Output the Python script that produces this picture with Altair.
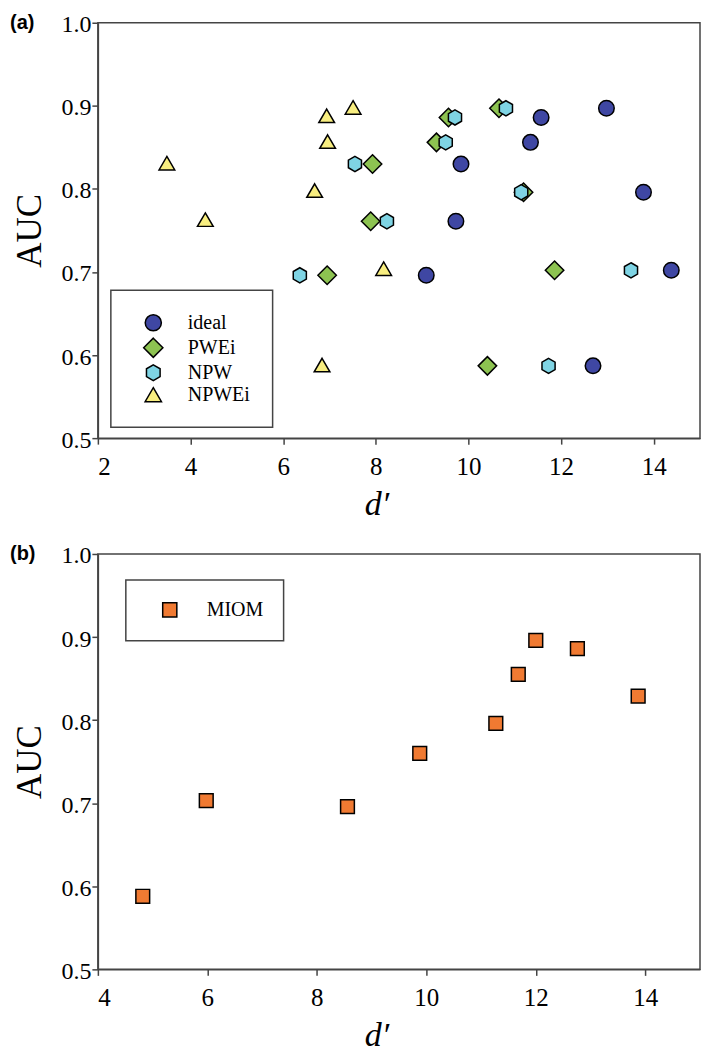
import altair as alt
import pandas as pd

# ---------------- data ----------------
series = ["ideal", "PWEi", "NPW", "NPWEi"]

ideal_x = [9.09, 9.73, 9.84, 11.34, 11.57, 12.98, 13.78, 14.38, 12.69]
ideal_y = [0.696, 0.761, 0.830, 0.856, 0.886, 0.897, 0.796, 0.702, 0.587]

pwei_x = [6.95, 7.89, 7.93, 9.31, 9.57, 10.66, 11.19, 11.86, 10.41]
pwei_y = [0.696, 0.761, 0.830, 0.856, 0.886, 0.897, 0.796, 0.702, 0.587]

npw_x = [6.36, 8.24, 7.55, 9.51, 9.71, 10.81, 11.14, 13.51, 11.73]
npw_y = [0.696, 0.761, 0.830, 0.856, 0.886, 0.897, 0.796, 0.702, 0.587]

npwei_x = [3.49, 4.32, 6.68, 6.94, 6.96, 7.51, 8.17, 6.84]
npwei_y = [0.831, 0.763, 0.798, 0.888, 0.857, 0.898, 0.704, 0.588]

miom_x = [4.82, 5.98, 8.56, 9.88, 11.27, 11.68, 12.00, 12.76, 13.87]
miom_y = [0.588, 0.703, 0.696, 0.760, 0.796, 0.855, 0.896, 0.886, 0.829]

x_ticks_a = [2, 4, 6, 8, 10, 12, 14]
x_ticks_b = [4, 6, 8, 10, 12, 14]
y_ticks = [0.5, 0.6, 0.7, 0.8, 0.9, 1.0]

colors = ["#3f47a3", "#8dc351", "#7fd4e4", "#f8ee80"]
miom_color = "#f07a32"

# symbol outlines (unit box -1..1)
circle_path = "M0.84,0A0.84,0.84,0,1,1,-0.84,0A0.84,0.84,0,1,1,0.84,0Z"
diamond_path = "M0,-1L1,0L0,1L-1,0Z"
hexagon_path = "M0,-0.82L0.71,-0.41L0.71,0.41L0,0.82L-0.71,0.41L-0.71,-0.41Z"
triangle_path = "M0,-0.73L0.85,0.73L-0.85,0.73Z"
shapes = [circle_path, diamond_path, hexagon_path, triangle_path]

rows = []
for name, xs, ys in [("ideal", ideal_x, ideal_y), ("PWEi", pwei_x, pwei_y),
                     ("NPW", npw_x, npw_y), ("NPWEi", npwei_x, npwei_y)]:
    for xv, yv in zip(xs, ys):
        rows.append({"series": name, "d": xv, "auc": yv})
df_a = pd.DataFrame(rows)
df_b = pd.DataFrame({"series": ["MIOM"] * len(miom_x), "d": miom_x, "auc": miom_y})

SERIF = "Liberation Serif"
AXC = "#444444"
W, H = 603, 416


def x_axis(vals):
    return alt.Axis(values=vals, format="d", title="d′", grid=False,
                    tickSize=6, tickWidth=1.5, tickColor=AXC,
                    domainColor=AXC, domainWidth=1.5,
                    labelFont=SERIF, labelFontSize=25, labelColor="black",
                    labelPadding=10,
                    titleFont=SERIF, titleFontStyle="italic", titleFontWeight="normal",
                    titleFontSize=34, titleColor="black",
                    titleX=279, titleY=76, titleBaseline="alphabetic", titleAlign="center")


def y_axis():
    return alt.Axis(values=y_ticks, format=".1f", title="AUC", grid=False,
                    tickSize=6, tickWidth=1.5, tickColor=AXC,
                    domainColor=AXC, domainWidth=1.5,
                    labelFont=SERIF, labelFontSize=24, labelColor="black",
                    labelPadding=1, labelBaseline="alphabetic", labelOffset=9,
                    titleFont=SERIF, titleFontWeight="normal", titleFontSize=35,
                    titleColor="black", titleAngle=270,
                    titleX=-57, titleY=H / 2, titleBaseline="alphabetic", titleAlign="center")


def panel_title(txt):
    return alt.TitleParams(text=txt, anchor="start", frame="group", orient="top",
                           font="Liberation Sans", fontWeight="bold", fontSize=20,
                           color="black", baseline="alphabetic", offset=-36,
                           dx=-88)


legend_a = alt.Legend(title=None, orient="none", legendX=13, legendY=268,
                      strokeColor=AXC, fillColor="white", padding=22,
                      symbolOffset=10, labelOffset=24, rowPadding=0,
                      labelFont=SERIF, labelFontSize=20, labelColor="black",
                      symbolSize=370)

chart_a = alt.Chart(df_a).mark_point(
    filled=True, opacity=1, stroke="black", strokeWidth=1.5, size=342
).encode(
    x=alt.X("d:Q", scale=alt.Scale(domain=[2, 15], nice=False, zero=False), axis=x_axis(x_ticks_a)),
    y=alt.Y("auc:Q", scale=alt.Scale(domain=[0.5, 1.0], nice=False, zero=False), axis=y_axis()),
    fill=alt.Fill("series:N", scale=alt.Scale(domain=series, range=colors), legend=legend_a),
    shape=alt.Shape("series:N", scale=alt.Scale(domain=series, range=shapes), legend=legend_a),
).properties(width=W, height=H, title=panel_title("(a)"))

legend_b = alt.Legend(title=None, orient="none", legendX=28, legendY=26,
                      strokeColor=AXC, fillColor="white", padding=20,
                      symbolOffset=14, labelOffset=27, rowPadding=0,
                      labelFont=SERIF, labelFontSize=20, labelColor="black",
                      symbolSize=200)

chart_b = alt.Chart(df_b).mark_point(
    filled=True, opacity=1, stroke="black", strokeWidth=1.5, size=190
).encode(
    x=alt.X("d:Q", scale=alt.Scale(domain=[4, 15], nice=False, zero=False), axis=x_axis(x_ticks_b)),
    y=alt.Y("auc:Q", scale=alt.Scale(domain=[0.5, 1.0], nice=False, zero=False), axis=y_axis()),
    fill=alt.Fill("series:N", scale=alt.Scale(domain=["MIOM"], range=[miom_color]), legend=legend_b),
    shape=alt.Shape("series:N", scale=alt.Scale(domain=["MIOM"], range=["square"]), legend=legend_b),
).properties(width=W, height=H, title=panel_title("(b)"))

chart = alt.vconcat(chart_a, chart_b, spacing=21).resolve_scale(
    fill="independent", shape="independent", x="independent", y="independent"
).resolve_legend(
    fill="independent", shape="independent"
).properties(
    padding={"left": 1, "top": 3, "right": 0, "bottom": 1}
).configure(
    font=SERIF,
    view=alt.ViewConfig(stroke=AXC, strokeWidth=1.5),
    axis=alt.AxisConfig(titleFont=SERIF),
    legend=alt.LegendConfig(strokeWidth=1.5, labelFont=SERIF),
)

chart.save("out.html", embed_options={"renderer": "svg", "actions": False})
